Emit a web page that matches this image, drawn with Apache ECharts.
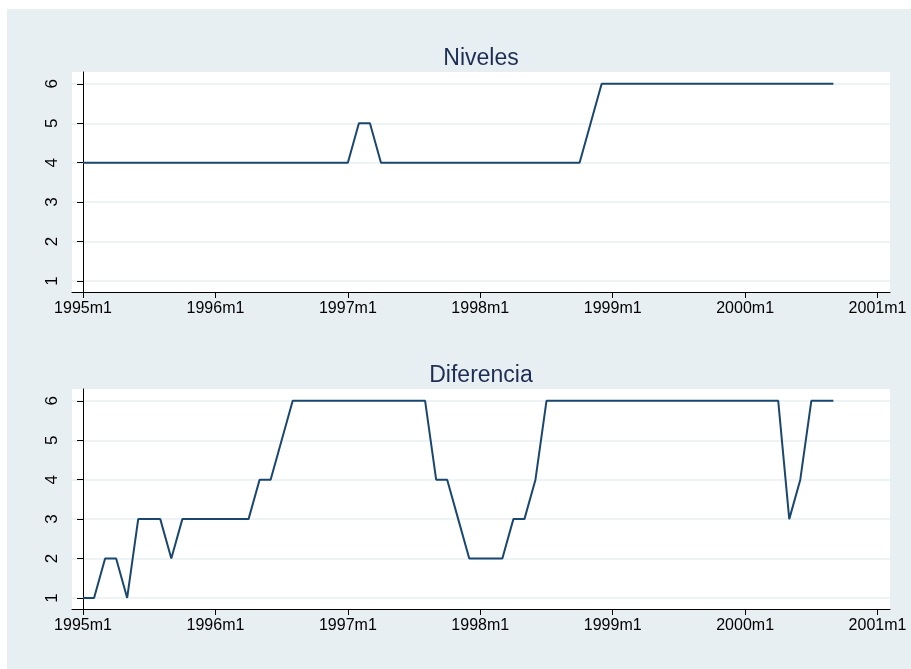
<!DOCTYPE html>
<html><head><meta charset="utf-8">
<script src="https://cdn.jsdelivr.net/npm/echarts@6/dist/echarts.min.js"></script>
<style>
html,body{margin:0;padding:0;background:#fff;width:911px;height:669px;overflow:hidden}
#c{position:absolute;left:7px;top:9px;width:904px;height:660px}
</style></head><body><div id="c"></div>
<script>
// Monthly periods 1995m1 .. 2000m9
const periods = [
 '1995m1','1995m2','1995m3','1995m4','1995m5','1995m6','1995m7','1995m8','1995m9','1995m10','1995m11','1995m12',
 '1996m1','1996m2','1996m3','1996m4','1996m5','1996m6','1996m7','1996m8','1996m9','1996m10','1996m11','1996m12',
 '1997m1','1997m2','1997m3','1997m4','1997m5','1997m6','1997m7','1997m8','1997m9','1997m10','1997m11','1997m12',
 '1998m1','1998m2','1998m3','1998m4','1998m5','1998m6','1998m7','1998m8','1998m9','1998m10','1998m11','1998m12',
 '1999m1','1999m2','1999m3','1999m4','1999m5','1999m6','1999m7','1999m8','1999m9','1999m10','1999m11','1999m12',
 '2000m1','2000m2','2000m3','2000m4','2000m5','2000m6','2000m7','2000m8','2000m9'
];
const niveles = [
 4,4,4,4,4,4,4,4,4,4,4,4,
 4,4,4,4,4,4,4,4,4,4,4,4,
 4,5,5,4,4,4,4,4,4,4,4,4,
 4,4,4,4,4,4,4,4,4,4,5,6,
 6,6,6,6,6,6,6,6,6,6,6,6,
 6,6,6,6,6,6,6,6,6
];
const diferencia = [
 1,1,2,2,1,3,3,3,2,3,3,3,
 3,3,3,3,4,4,5,6,6,6,6,6,
 6,6,6,6,6,6,6,6,4,4,3,2,
 2,2,2,3,3,4,6,6,6,6,6,6,
 6,6,6,6,6,6,6,6,6,6,6,6,
 6,6,6,6,3,4,6,6,6
];
const xTickLabels = ['1995m1','1996m1','1997m1','1998m1','1999m1','2000m1','2001m1'];
const yTicks = [1,2,3,4,5,6];
const panelTitles = ['Niveles','Diferencia'];

const FONT = 'Liberation Sans, Arial, sans-serif';
const toIndex = s => { const [y,m] = s.split('m').map(Number); return (y-1995)*12 + (m-1); };
const xTickValues = xTickLabels.map(toIndex);
const labelOf = {}; xTickLabels.forEach(l => labelOf[toIndex(l)] = l);

function xAxis(gi){
  return {
    type:'value', gridIndex:gi, min:-1, max:73.13,
    axisLine:{show:true, onZero:false, lineStyle:{color:'#000', width:1}},
    axisTick:{show:true, length:6, customValues:xTickValues, lineStyle:{color:'#000', width:1}},
    axisLabel:{customValues:xTickValues, formatter:v=>labelOf[Math.round(v)]||'', color:'#000', fontSize:16, fontFamily:FONT, margin:9},
    splitLine:{show:false}
  };
}
function yAxis(gi){
  return {
    type:'value', gridIndex:gi, min:0.72, max:6.3,
    axisLine:{show:true, lineStyle:{color:'#000', width:1}},
    axisTick:{show:true, length:6, customValues:yTicks, lineStyle:{color:'#000', width:1}},
    axisLabel:{customValues:yTicks, rotate:90, color:'#000', fontSize:17, fontFamily:FONT, margin:11},
    splitLine:{show:true, lineStyle:{color:'#e9f0f3', width:1.5}}
  };
}
const series = [niveles, diferencia].map((vals,gi)=>({
  type:'line', xAxisIndex:gi, yAxisIndex:gi, symbol:'none', z:3,
  lineStyle:{color:'#1a476f', width:2}, animation:false,
  data: vals.map((v,i)=>[toIndex(periods[i]), v])
}));

const chart = echarts.init(document.getElementById('c'));
chart.setOption({
  animation:false,
  backgroundColor:'#e8eff2',
  grid:[
    {left:65, top:63, width:818, height:220, show:true, backgroundColor:'#fff', borderWidth:0, containLabel:false},
    {left:65, top:380, width:818, height:220, show:true, backgroundColor:'#fff', borderWidth:0, containLabel:false}
  ],
  xAxis:[xAxis(0), xAxis(1)],
  yAxis:[yAxis(0), yAxis(1)],
  graphic:[
    {type:'text', x:474, y:50, style:{text:panelTitles[0], fontSize:23, fontFamily:FONT, fill:'#1e2d53', align:'center', verticalAlign:'middle'}},
    {type:'text', x:474, y:367, style:{text:panelTitles[1], fontSize:23, fontFamily:FONT, fill:'#1e2d53', align:'center', verticalAlign:'middle'}}
  ],
  series
});
</script></body></html>
